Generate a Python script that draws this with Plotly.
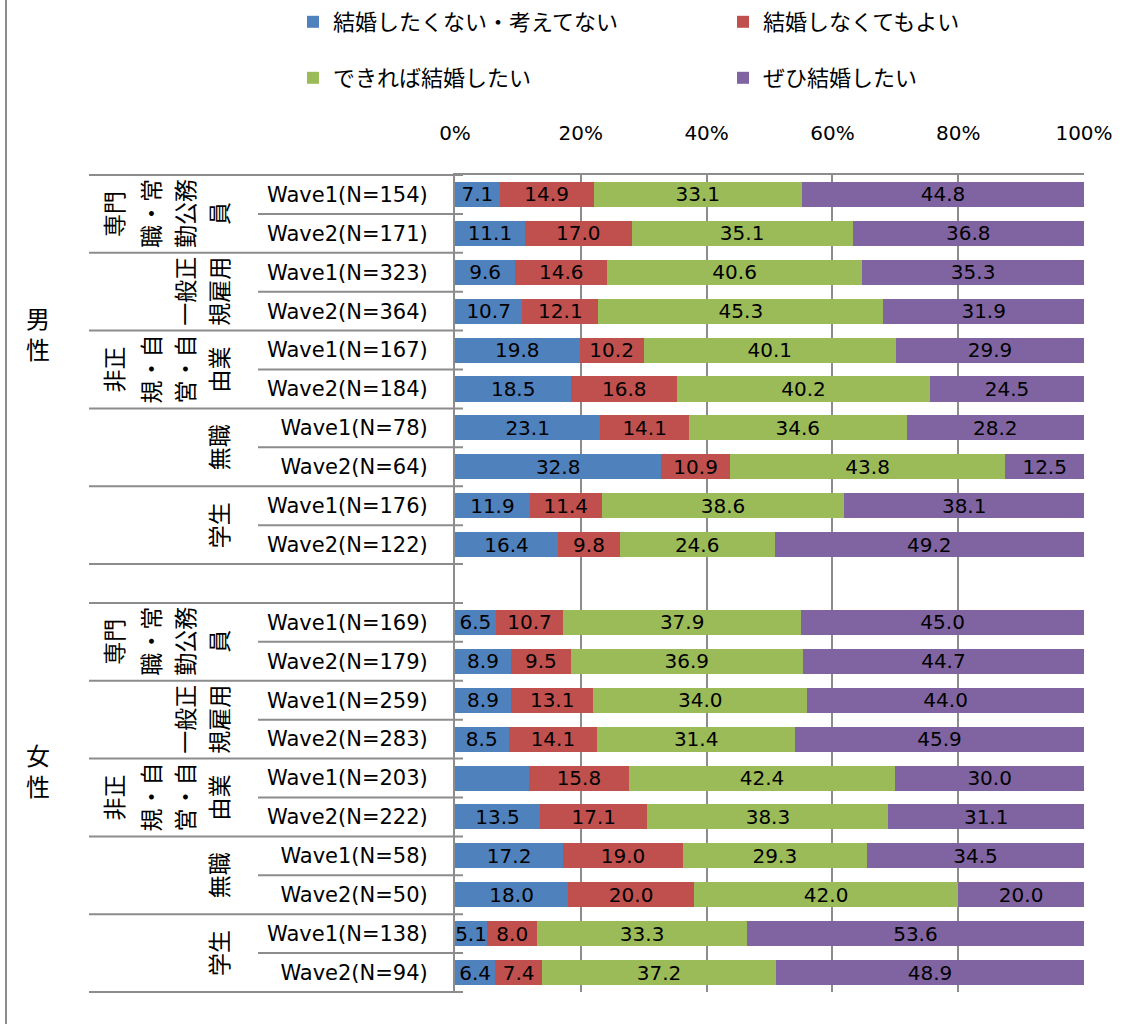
import plotly.graph_objects as go

# ---------------- data ----------------
series_names = ["結婚したくない・考えてない", "結婚しなくてもよい", "できれば結婚したい", "ぜひ結婚したい"]
colors = ["#4F81BD", "#C0504D", "#9BBB59", "#8064A2"]

genders = ["男<br>性", "女<br>性"]
occupation_lines = [
    ["専門", "職・常", "勤公務", "員"],
    ["一般正", "規雇用"],
    ["非正", "規・自", "営・自", "由業"],
    ["無職"],
    ["学生"],
]

wave_labels = [
    "Wave1(N=154)", "Wave2(N=171)", "Wave1(N=323)", "Wave2(N=364)",
    "Wave1(N=167)", "Wave2(N=184)", "Wave1(N=78)", "Wave2(N=64)",
    "Wave1(N=176)", "Wave2(N=122)",
    "Wave1(N=169)", "Wave2(N=179)", "Wave1(N=259)", "Wave2(N=283)",
    "Wave1(N=203)", "Wave2(N=222)", "Wave1(N=58)", "Wave2(N=50)",
    "Wave1(N=138)", "Wave2(N=94)",
]

not_want = [7.1, 11.1, 9.6, 10.7, 19.8, 18.5, 23.1, 32.8, 11.9, 16.4,
            6.5, 8.9, 8.9, 8.5, 11.8, 13.5, 17.2, 18.0, 5.1, 6.4]
ok_without = [14.9, 17.0, 14.6, 12.1, 10.2, 16.8, 14.1, 10.9, 11.4, 9.8,
              10.7, 9.5, 13.1, 14.1, 15.8, 17.1, 19.0, 20.0, 8.0, 7.4]
if_possible = [33.1, 35.1, 40.6, 45.3, 40.1, 40.2, 34.6, 43.8, 38.6, 24.6,
               37.9, 36.9, 34.0, 31.4, 42.4, 38.3, 29.3, 42.0, 33.3, 37.2]
definitely = [44.8, 36.8, 35.3, 31.9, 29.9, 24.5, 28.2, 12.5, 38.1, 49.2,
              45.0, 44.7, 44.0, 45.9, 30.0, 31.1, 34.5, 20.0, 53.6, 48.9]
# label not shown in the original (female, 非正規 Wave1, first series)
hidden_labels = {(0, 14)}

series_values = [not_want, ok_without, if_possible, definitely]

# ---------------- layout geometry ----------------
W, H = 1131, 1024
L, T = 455, 175
PW, PH = 629, 817
R, B = W - L - PW, H - T - PH
N_SLOTS = 21  # 10 male rows + gap + 10 female rows

def row_of(i):
    return i if i < 10 else i + 1

rows = [row_of(i) for i in range(len(wave_labels))]

def px_x(px):
    return (px - L) / PW

def px_y(py):
    return (H - B - py) / PH

def slot_y(b):
    return 1 - b / N_SLOTS

LATIN = "DejaVu Sans, Noto Sans CJK JP"
CJK = "Noto Sans CJK JP"
GRID = "#8C8C8C"

legend_pos = [(293, 22), (723, 22), (293, 78), (723, 78)]
legend_ids = ["legend", "legend2", "legend3", "legend4"]

fig = go.Figure()
for s, (name, vals, col) in enumerate(zip(series_names, series_values, colors)):
    texts = ["" if (s, i) in hidden_labels else f"{v:.1f}" for i, v in enumerate(vals)]
    fig.add_trace(go.Bar(
        x=vals, y=rows, orientation="h", name=name,
        marker=dict(color=col, line=dict(width=0)),
        text=texts, textposition="inside", insidetextanchor="middle",
        textangle=0, textfont=dict(size=20, color="#000000", family=LATIN),
        legend=legend_ids[s],
        hoverinfo="skip",
    ))

annotations = []
shapes = []

# gender labels
for g, (lab, py) in enumerate(zip(genders, [333, 770])):
    annotations.append(dict(text=lab, xref="paper", yref="paper",
                            x=px_x(38), y=px_y(py), showarrow=False,
                            xanchor="center", yanchor="middle",
                            font=dict(size=24, color="#000000", family=CJK)))

col_px = [113, 150, 184, 218]
for g in range(2):
    base_slot = g * 11
    for k, lines in enumerate(occupation_lines):
        top = base_slot + 2 * k
        yc = slot_y(top + 1)
        n = len(lines)
        for j, line in enumerate(lines):
            cx = col_px[4 - n + j]
            annotations.append(dict(text=line, xref="paper", yref="paper",
                                    x=px_x(cx), y=yc, textangle=-90, showarrow=False,
                                    xanchor="center", yanchor="middle",
                                    font=dict(size=23, color="#000000", family=CJK)))
        shapes.append(dict(type="line", xref="paper", yref="paper",
                           x0=px_x(89), x1=px_x(463), y0=slot_y(top), y1=slot_y(top),
                           line=dict(color=GRID, width=2)))
        shapes.append(dict(type="line", xref="paper", yref="paper",
                           x0=px_x(258), x1=px_x(463), y0=slot_y(top + 1), y1=slot_y(top + 1),
                           line=dict(color=GRID, width=2)))
    bottom = base_slot + 10
    shapes.append(dict(type="line", xref="paper", yref="paper",
                       x0=px_x(89), x1=px_x(463), y0=slot_y(bottom), y1=slot_y(bottom),
                       line=dict(color=GRID, width=2)))

# chart border on the left
shapes.append(dict(type="line", xref="paper", yref="paper",
                   x0=px_x(6), x1=px_x(6), y0=px_y(0), y1=px_y(H + 20),
                   line=dict(color=GRID, width=2)))

legends = {}
for lid, (lx, ly) in zip(legend_ids, legend_pos):
    legends[lid] = dict(orientation="h", xref="container", yref="container",
                        x=lx / W, y=1 - ly / H,
                        xanchor="left", yanchor="middle",
                        bgcolor="rgba(0,0,0,0)",
                        font=dict(size=22, color="#000000", family=CJK),
                        itemclick=False, itemdoubleclick=False)

fig.update_layout(
    width=W, height=H,
    margin=dict(l=L, r=R, t=T, b=B, autoexpand=False),
    paper_bgcolor="white", plot_bgcolor="white",
    barmode="stack", barnorm="percent", bargap=0.356,
    showlegend=True,
    uniformtext=dict(minsize=20, mode="show"),
    xaxis=dict(side="top", range=[0, 100], dtick=20, ticksuffix="%",
               showgrid=True, gridcolor=GRID, gridwidth=2,
               showline=True, linecolor=GRID, linewidth=2, zeroline=False,
               ticks="", ticklabelstandoff=25,
               tickfont=dict(size=20, color="#000000", family=LATIN)),
    yaxis=dict(range=[N_SLOTS - 0.5, -0.5], tickmode="array", tickvals=rows,
               ticktext=wave_labels, showgrid=False, zeroline=False,
               showline=True, linecolor=GRID, linewidth=2, ticks="",
               ticklabelstandoff=21,
               tickfont=dict(size=21, color="#000000", family=LATIN)),
    annotations=annotations, shapes=shapes,
    **legends,
)

fig.write_html("out.html",
               config={"displayModeBar": False, "staticPlot": False},
               post_script="document.body.style.margin='0';document.body.style.overflow='hidden';")
